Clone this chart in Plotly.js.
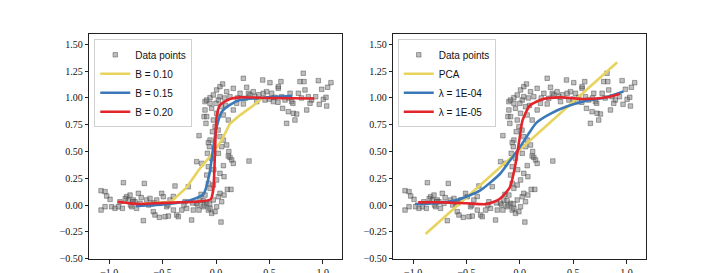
<!DOCTYPE html>
<html>
<head>
<meta charset="utf-8">
<script src="https://cdn.plot.ly/plotly-3.0.1.min.js"></script>
<style>html,body{margin:0;padding:0;background:#fff;}#chart{width:718px;height:273px;}</style>
</head>
<body>
<div id="chart"></div>
<script>
// ---- data points (shared by both panels) ----
const dataX = [-1.076,-1.039,-1.076,-1.039,-1.023,-0.992,-0.977,-0.945,-0.914,-0.867,-0.877,-0.836,-0.821,-0.805,-0.789,-0.774,-0.758,-0.743,-0.727,-0.711,-0.680,-0.671,-0.649,-0.618,-0.602,-0.587,-0.571,-0.555,-0.530,-0.509,-0.493,-0.477,-0.462,-0.446,-0.431,-0.399,
 -0.384,-0.368,-0.353,-0.321,-0.290,-0.275,-0.259,-0.228,-0.212,-0.181,-0.181,-0.159,-0.150,-0.134,-0.159,-0.119,-0.103,-0.087,-0.072,-0.056,-0.041,-0.025,-0.009,0.006,0.022,0.037,0.047,0.053,0.075,0.106,
 -0.087,-0.072,-0.081,-0.056,-0.072,-0.094,-0.112,-0.087,-0.103,-0.103,-0.087,-0.056,-0.041,-0.056,-0.025,0.006,0.037,0.062,0.022,0.037,0.053,0.069,0.006,-0.025,-0.034,-0.009,0.037,0.069,0.100,0.053,0.022,0.115,0.131,0.147,0.069,0.037,0.006,-0.025,-0.056,-0.072,0.075,0.162,0.309,0.140,-0.062,-0.041,0.115,0.162,0.193,0.162,0.100,0.131,0.225,0.256,0.271,0.287,0.303,0.256,0.318,
 0.349,0.365,0.381,0.437,0.443,0.459,0.474,0.505,0.521,0.537,0.552,0.583,0.583,0.608,0.615,0.624,0.646,0.661,0.677,0.693,0.708,0.724,0.739,0.755,0.771,0.786,0.817,0.824,0.833,0.849,0.864,0.895,0.958,0.967,0.989,1.005,1.030,1.036,1.045,1.076,0.933,
 -0.90,-0.85,-0.80,-0.78,-0.70,-0.63,-0.58,-0.45,-0.40,-0.30,-0.22,-0.17,-0.12,-0.06,-0.02,0.02,0.09,0.12,-0.14,-0.11,0.00,0.08,0.20,0.40,0.50,0.58,0.68,0.72,0.80,0.88];
const dataY = [0.134,0.125,-0.047,-0.016,0.084,0.053,-0.016,-0.031,-0.016,0.209,-0.031,0.078,0.047,0.093,-0.016,0.047,0.031,-0.031,0.109,0.016,-0.146,0.202,0.047,0.062,0.009,-0.062,-0.093,0.047,-0.115,0.109,0.078,-0.109,-0.016,-0.103,0.047,-0.047,
 0.178,-0.093,-0.109,-0.047,0.031,-0.031,0.171,-0.140,-0.047,0.405,0.016,-0.047,0.047,0.389,0.648,-0.016,0.093,0.016,-0.047,-0.031,-0.078,0.047,-0.062,-0.016,0.078,0.109,-0.159,0.031,0.093,0.146,
 0.280,0.358,0.483,0.607,0.583,0.763,0.826,0.826,0.888,0.966,0.981,0.950,0.903,1.003,1.028,1.075,1.106,1.131,0.981,1.012,0.919,0.841,0.857,0.794,0.685,0.732,0.639,0.607,0.561,0.545,0.483,0.458,0.445,0.421,0.368,0.296,0.234,0.187,0.156,0.202,0.265,0.389,0.411,0.146,0.545,0.436,0.794,0.888,0.950,1.090,1.059,1.012,1.044,1.184,0.997,1.100,1.044,0.944,1.028,
 1.059,1.012,0.966,1.168,1.044,0.981,1.059,1.143,1.044,0.966,1.006,1.090,1.106,1.153,1.012,0.903,0.981,0.763,0.872,1.044,0.966,0.857,0.794,0.850,1.044,1.153,1.231,1.153,1.075,0.888,1.012,0.981,1.162,0.941,1.081,0.988,1.006,0.925,1.100,1.143,1.012,
 0.030,0.060,0.000,0.030,0.070,0.000,0.020,0.000,0.080,0.000,0.020,0.000,0.040,0.010,0.330,0.700,0.930,0.500,0.100,0.000,0.950,1.000,1.000,1.030,0.990,0.960,1.000,0.950,1.000,0.950];

// ---- left panel curves ----
const b10X = [-0.70,-0.42,-0.275,-0.15,-0.025,0.053,0.13,0.225,0.35,0.434];
const b10Y = [0.01,0.03,0.165,0.343,0.49,0.607,0.76,0.84,0.93,1.00];
const b15X = [-0.75,-0.50,-0.30,-0.119,-0.06,-0.025,0.006,0.053,0.13,0.225,0.41,0.714];
const b15Y = [-0.01,0.005,0.03,0.10,0.30,0.545,0.73,0.87,0.935,0.98,1.00,1.02];
const b20X = [-0.92,-0.80,-0.70,-0.50,-0.20,-0.05,-0.025,-0.009,0.006,0.037,0.13,0.225,0.50,0.92];
const b20Y = [0.03,0.015,0.01,0.02,0.03,0.053,0.15,0.51,0.825,0.935,0.99,1.006,1.00,0.995];

// ---- right panel curves ----
const pcaX = [-0.884,0.9125];
const pcaY = [-0.271,1.333];
const l4X = [-0.984,-0.75,-0.5625,-0.375,-0.1875,-0.094,0.0,0.078,0.156,0.28,0.4375,0.625,0.8125,0.97];
const l4Y = [0.009,0.02,0.056,0.134,0.29,0.414,0.54,0.66,0.77,0.85,0.92,0.975,1.006,1.06];
const l5X = [-0.953,-0.72,-0.5,-0.31,-0.19,-0.094,-0.047,-0.006,0.025,0.094,0.22,0.375,0.625,0.8125,0.9375];
const l5Y = [0.025,0.025,0.016,0.009,0.056,0.165,0.35,0.60,0.79,0.93,0.99,1.006,0.99,1.006,1.04];

const names1 = ['Data points','B = 0.10','B = 0.15','B = 0.20'];
const names2 = ['Data points','PCA','λ = 1E-04','λ = 1E-05'];

const cYellow = '#e8d35e', cBlue = '#3a78b8', cRed = '#e3252b';
const markerStyle = {symbol:'square', size:4.5, color:'rgba(110,110,110,0.45)', line:{color:'rgba(60,60,60,0.55)', width:0.8}};

function pts(xa, ya, leg) {
  return {x:dataX, y:dataY, xaxis:xa, yaxis:ya, mode:'markers', type:'scatter', name: leg==='legend'?names1[0]:names2[0], legend:leg, marker:markerStyle};
}
function ln(x, y, name, color, xa, ya, leg, shape) {
  return {x:x, y:y, xaxis:xa, yaxis:ya, mode:'lines', type:'scatter', name:name, legend:leg, line:{color:color, width:2.6, shape:shape||'linear', smoothing:0.6}};
}

const traces = [
  pts('x','y','legend'),
  ln(b10X,b10Y,names1[1],cYellow,'x','y','legend'),
  ln(b15X,b15Y,names1[2],cBlue,'x','y','legend','spline'),
  ln(b20X,b20Y,names1[3],cRed,'x','y','legend','spline'),
  pts('x2','y2','legend2'),
  ln(pcaX,pcaY,names2[1],cYellow,'x2','y2','legend2'),
  ln(l4X,l4Y,names2[2],cBlue,'x2','y2','legend2','spline'),
  ln(l5X,l5Y,names2[3],cRed,'x2','y2','legend2','spline')
];

const tickFont = {family:'Liberation Serif, DejaVu Serif, serif', size:10, color:'#111'};
function xax(dom, anchor) {
  return {domain:dom, anchor:anchor, range:[-1.186,1.182], dtick:0.5, tick0:0, tickformat:'.1f',
    showline:true, mirror:true, linecolor:'#222', linewidth:1, ticks:'outside', ticklen:3.5, tickcolor:'#222',
    showgrid:false, zeroline:false, tickfont:tickFont};
}
function yax(anchor) {
  return {domain:[0.0502,0.8744], anchor:anchor, range:[-0.507,1.595], dtick:0.25, tick0:0, tickformat:'.2f',
    showline:true, mirror:true, linecolor:'#222', linewidth:1, ticks:'outside', ticklen:3.5, tickcolor:'#222',
    showgrid:false, zeroline:false, tickfont:tickFont};
}
const legFont = {family:'Liberation Sans, Arial, sans-serif', size:10, color:'#111'};
const layout = {
  width:718, height:273, margin:{l:0,r:0,t:0,b:0},
  paper_bgcolor:'#fff', plot_bgcolor:'#fff', showlegend:true,
  xaxis:xax([0.1244,0.4767],'y'), yaxis:yax('x'),
  xaxis2:xax([0.5478,0.8997],'y2'), yaxis2:yax('x2'),
  legend:{x:0.1313, y:0.856, xanchor:'left', yanchor:'top', bgcolor:'rgba(255,255,255,0.85)', bordercolor:'#d0d0d0', borderwidth:1, font:legFont, tracegroupgap:0},
  legend2:{x:0.554, y:0.856, xanchor:'left', yanchor:'top', bgcolor:'rgba(255,255,255,0.85)', bordercolor:'#d0d0d0', borderwidth:1, font:legFont, tracegroupgap:0}
};
Plotly.newPlot('chart', traces, layout, {staticPlot:true, displayModeBar:false});
</script>
</body>
</html>
